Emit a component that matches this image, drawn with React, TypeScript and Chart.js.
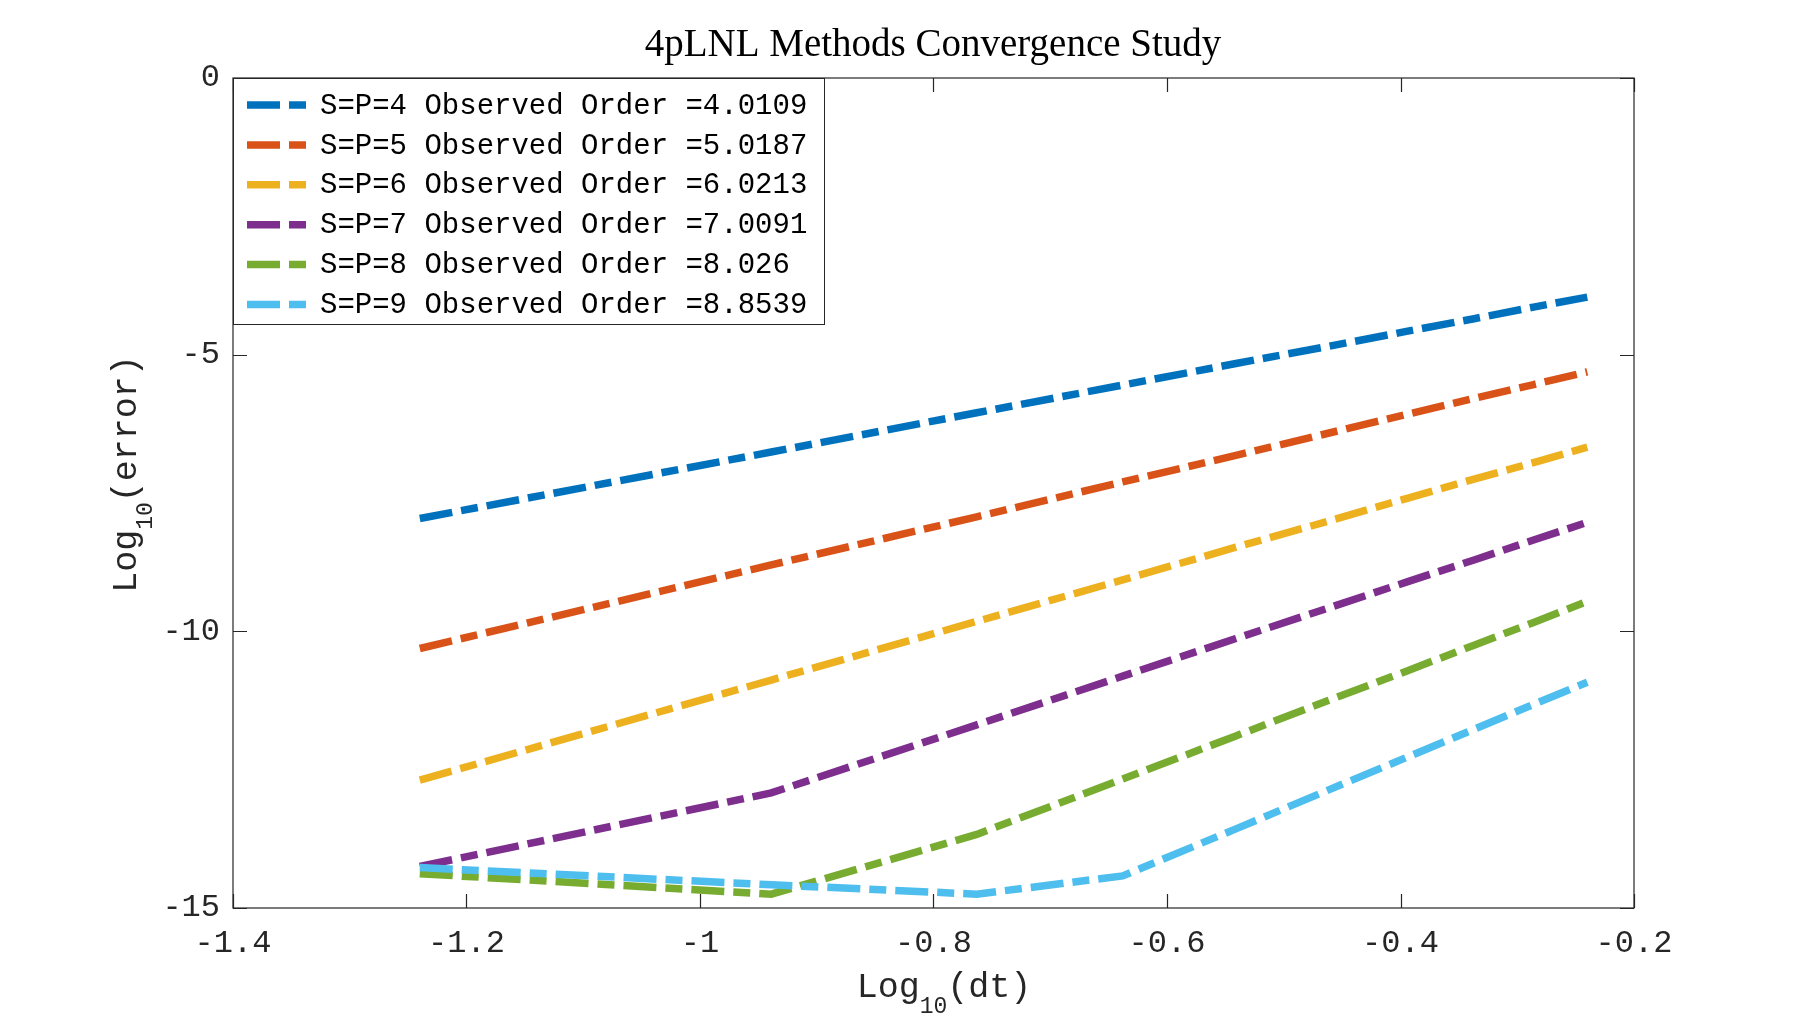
import React, { useEffect, useRef } from "react";
import { Chart, registerables } from "chart.js";

Chart.register(...registerables);

const chartTitle = "4pLNL Methods Convergence Study";

// log10(dt) sample positions
const logDt = [-1.24, -0.939, -0.763, -0.638, -0.541, -0.462, -0.395, -0.337, -0.286, -0.24];

// log10(error) per method
const errP4 = [-7.96, -6.76, -6.05, -5.55, -5.16, -4.85, -4.58, -4.35, -4.14, -3.96];
const errP5 = [-10.31, -8.8, -7.93, -7.3, -6.82, -6.42, -6.08, -5.79, -5.54, -5.31];
const errP6 = [-12.69, -10.88, -9.82, -9.07, -8.48, -8.01, -7.6, -7.25, -6.95, -6.67];
const errP7 = [-14.25, -12.92, -11.69, -10.81, -10.13, -9.58, -9.11, -8.71, -8.35, -8.03];
const errP8 = [-14.38, -14.75, -13.67, -12.67, -11.89, -11.25, -10.72, -10.25, -9.84, -9.46];
const errP9 = [-14.27, -14.58, -14.75, -14.42, -13.57, -12.87, -12.28, -11.77, -11.32, -10.92];

const seriesLabels = [
  "S=P=4 Observed Order =4.0109",
  "S=P=5 Observed Order =5.0187",
  "S=P=6 Observed Order =6.0213",
  "S=P=7 Observed Order =7.0091",
  "S=P=8 Observed Order =8.026",
  "S=P=9 Observed Order =8.8539",
];
const seriesValues = [errP4, errP5, errP6, errP7, errP8, errP9];
const seriesColors = ["#0072BD", "#D95319", "#EDB120", "#7E2F8E", "#77AC30", "#4DBEEE"];

const xTicks = [-1.4, -1.2, -1, -0.8, -0.6, -0.4, -0.2];
const xTickLabels = ["-1.4", "-1.2", "-1", "-0.8", "-0.6", "-0.4", "-0.2"];
const yTicks = [-15, -10, -5, 0];
const yTickLabels = ["-15", "-10", "-5", "0"];

const xTitle = ["Log", "10", "(dt)"];
const yTitle = ["Log", "10", "(error)"];

const MONO = '"Liberation Mono", "DejaVu Sans Mono", monospace';
const SERIF = '"Liberation Serif", "DejaVu Serif", serif';
const DASH = [33, 9, 17, 9];
const LINE_W = 7.5;
const AXIS_COLOR = "#262626";

function drawSubText(ctx: CanvasRenderingContext2D, parts: string[], cx: number, baseY: number) {
  const mainFont = `35px ${MONO}`;
  const subFont = `23px ${MONO}`;
  ctx.font = mainFont;
  const w0 = ctx.measureText(parts[0]).width;
  const w2 = ctx.measureText(parts[2]).width;
  ctx.font = subFont;
  const w1 = ctx.measureText(parts[1]).width;
  const total = w0 + w1 + w2;
  let x = cx - total / 2;
  ctx.textAlign = "left";
  ctx.textBaseline = "alphabetic";
  ctx.font = mainFont;
  ctx.fillText(parts[0], x, baseY);
  x += w0;
  ctx.font = subFont;
  ctx.fillText(parts[1], x, baseY + 16);
  x += w1;
  ctx.font = mainFont;
  ctx.fillText(parts[2], x, baseY);
}

const decorPlugin = {
  id: "decor",
  afterDatasetsDraw(chart: any) {
    const { ctx, chartArea: a, scales } = chart;
    ctx.save();
    ctx.setLineDash([]);
    ctx.strokeStyle = AXIS_COLOR;
    ctx.lineWidth = 1.2;
    ctx.strokeRect(a.left, a.top, a.right - a.left, a.bottom - a.top);
    const tl = 14;
    ctx.beginPath();
    xTicks.forEach((v) => {
      const px = Math.round(scales.x.getPixelForValue(v)) + 0.5;
      ctx.moveTo(px, a.bottom);
      ctx.lineTo(px, a.bottom - tl);
      ctx.moveTo(px, a.top);
      ctx.lineTo(px, a.top + tl);
    });
    yTicks.forEach((v) => {
      const py = Math.round(scales.y.getPixelForValue(v)) + 0.5;
      ctx.moveTo(a.left, py);
      ctx.lineTo(a.left + tl, py);
      ctx.moveTo(a.right, py);
      ctx.lineTo(a.right - tl, py);
    });
    ctx.stroke();
    ctx.restore();
  },
  afterDraw(chart: any) {
    const { ctx, chartArea: a } = chart;
    ctx.save();
    // title
    ctx.fillStyle = "#000";
    ctx.font = `39px ${SERIF}`;
    ctx.textAlign = "center";
    ctx.textBaseline = "alphabetic";
    ctx.fillText(chartTitle, 933, 56);

    // axis titles
    ctx.fillStyle = AXIS_COLOR;
    drawSubText(ctx, xTitle, 944, 997);
    ctx.save();
    ctx.translate(136, 474);
    ctx.rotate(-Math.PI / 2);
    drawSubText(ctx, yTitle, 0, 0);
    ctx.restore();

    // legend
    const lx = a.left;
    const ly = a.top;
    const lw = 591;
    const lh = 246;
    ctx.fillStyle = "#fff";
    ctx.fillRect(lx, ly, lw, lh);
    ctx.strokeStyle = AXIS_COLOR;
    ctx.lineWidth = 1;
    ctx.strokeRect(lx + 0.5, ly + 0.5, lw, lh);
    seriesLabels.forEach((label, i) => {
      const cy = ly + 27 + i * 39.9;
      ctx.save();
      ctx.strokeStyle = seriesColors[i];
      ctx.lineWidth = LINE_W;
      ctx.lineCap = "butt";
      ctx.setLineDash(DASH);
      ctx.beginPath();
      ctx.moveTo(lx + 14, cy);
      ctx.lineTo(lx + 81, cy);
      ctx.stroke();
      ctx.restore();
      ctx.fillStyle = "#000";
      ctx.font = `29px ${MONO}`;
      ctx.textAlign = "left";
      ctx.textBaseline = "middle";
      ctx.fillText(label, lx + 87, cy + 1);
    });
    ctx.restore();
  },
};

export default function App() {
  const canvasRef = useRef<HTMLCanvasElement | null>(null);

  useEffect(() => {
    document.body.style.margin = "0";
    document.body.style.overflow = "hidden";
    const canvas = canvasRef.current;
    if (!canvas) return;
    const chart = new Chart(canvas, {
      type: "line",
      data: {
        datasets: seriesValues.map((vals, i) => ({
          label: seriesLabels[i],
          data: vals.map((y, k) => ({ x: logDt[k], y })),
          borderColor: seriesColors[i],
          backgroundColor: seriesColors[i],
          borderWidth: LINE_W,
          borderDash: DASH,
          borderCapStyle: "butt" as const,
          borderJoinStyle: "miter" as const,
          pointRadius: 0,
          pointHoverRadius: 0,
          fill: false,
          tension: 0,
          order: seriesValues.length - i,
        })),
      },
      options: {
        responsive: false,
        animation: false,
        devicePixelRatio: 1,
        layout: { padding: { top: 78, right: 173, left: 0, bottom: 0 } },
        plugins: {
          legend: { display: false },
          title: { display: false },
          tooltip: { enabled: false },
        },
        scales: {
          x: {
            type: "linear",
            min: -1.4,
            max: -0.2,
            grid: { display: false, drawTicks: false },
            border: { display: false },
            afterBuildTicks: (scale: any) => {
              scale.ticks = xTicks.map((v) => ({ value: v }));
            },
            afterFit: (scale: any) => {
              scale.height = 113;
            },
            ticks: {
              padding: 16,
              color: AXIS_COLOR,
              font: { family: MONO, size: 32 },
              maxRotation: 0,
              autoSkip: false,
              callback: (value: any) => {
                const idx = xTicks.findIndex((t) => Math.abs(t - Number(value)) < 1e-9);
                return idx >= 0 ? xTickLabels[idx] : "";
              },
            },
          },
          y: {
            type: "linear",
            min: -15,
            max: 0,
            grid: { display: false, drawTicks: false },
            border: { display: false },
            afterBuildTicks: (scale: any) => {
              scale.ticks = yTicks.map((v) => ({ value: v }));
            },
            afterFit: (scale: any) => {
              scale.width = 233;
            },
            ticks: {
              padding: 13,
              color: AXIS_COLOR,
              font: { family: MONO, size: 32 },
              autoSkip: false,
              callback: (value: any) => {
                const idx = yTicks.findIndex((t) => Math.abs(t - Number(value)) < 1e-9);
                return idx >= 0 ? yTickLabels[idx] : "";
              },
            },
          },
        },
      } as any,
      plugins: [decorPlugin],
    });
    return () => chart.destroy();
  }, []);

  return (
    <div style={{ width: 1807, height: 1021, background: "#fff" }}>
      <canvas ref={canvasRef} width={1807} height={1021} style={{ display: "block" }} />
    </div>
  );
}
